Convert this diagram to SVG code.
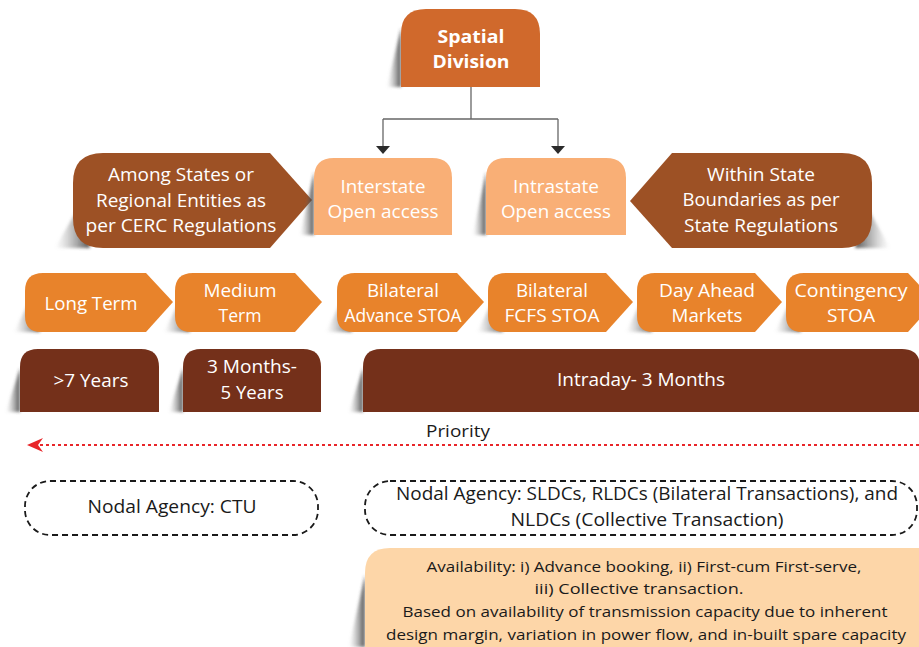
<svg xmlns="http://www.w3.org/2000/svg" width="919" height="647" viewBox="0 0 919 647">
<defs>
<linearGradient id="shL" x1="1" y1="0" x2="0" y2="0"><stop offset="0" stop-color="#333" stop-opacity="0.85"/><stop offset="1" stop-color="#999" stop-opacity="0"/></linearGradient>
<linearGradient id="shR" x1="0" y1="0" x2="1" y2="0"><stop offset="0" stop-color="#333" stop-opacity="0.85"/><stop offset="1" stop-color="#999" stop-opacity="0"/></linearGradient>
<filter id="bl" x="-50%" y="-50%" width="200%" height="200%"><feGaussianBlur stdDeviation="1.5"/></filter>
</defs>
<style>
text{font-family:"Open Sans","Liberation Sans",sans-serif;text-anchor:middle;fill:#fff}
.t18{font-size:18px}
.t19{font-size:19px}
.b{font-weight:bold}
.dk{fill:#1a1a1a}
.sp{fill:#D0692C}
.lt{fill:#F9AF76}
.br{fill:#9D5125}
.or{fill:#E8832B}
.db{fill:#74301A}
.sh{fill:url(#shL);filter:url(#bl)}
.shr{fill:url(#shR);filter:url(#bl)}
.dash{fill:none;stroke:#1a1a1a;stroke-width:1.8;stroke-dasharray:6 4}
.con{fill:none;stroke:#666;stroke-width:1.3}
.ah{fill:#2b2b2b}
</style>
<rect width="919" height="647" fill="#fff"/>

<g id="connectors">
<path class="con" d="M471,87 V119"/>
<path class="con" d="M383,119 H558"/>
<path class="con" d="M383,119 V147"/>
<path class="con" d="M558,119 V147"/>
<path class="ah" d="M376,146 H390 L383,154 Z"/>
<path class="ah" d="M551,146 H565 L558,154 Z"/>
<path d="M919,445 H38" fill="none" stroke="#E8262A" stroke-width="2" stroke-dasharray="3 3"/>
<path d="M27,445 L43,438 L38,445 L43,452 Z" fill="#E8262A"/>
</g>

<g id="spatial">
<path class="sh" d="M401,28 L387,87 H401 Z"/>
<path class="sp" d="M401,87 V34 Q401,9 426,9 H515 Q540,9 540,34 V87 Z"/>
<text class="t18 b" x="471" y="43" textLength="67" lengthAdjust="spacingAndGlyphs">Spatial</text>
<text class="t18 b" x="471" y="68" textLength="77" lengthAdjust="spacingAndGlyphs">Division</text>
</g>

<g id="among">
<path class="sh" d="M80,205 L55,248 H90 Z"/>
<path class="br" d="M103,153 H270 L312,200 L270,248 H103 Q73,248 73,218 V183 Q73,153 103,153 Z"/>
<text class="t19" x="181" y="181" textLength="146" lengthAdjust="spacingAndGlyphs">Among States or</text>
<text class="t19" x="181" y="207" textLength="170" lengthAdjust="spacingAndGlyphs">Regional Entities as</text>
<text class="t19" x="181" y="232" textLength="191" lengthAdjust="spacingAndGlyphs">per CERC Regulations</text>
</g>

<g id="interstate">
<path class="sh" d="M314,172 L300,235 H314 Z"/>
<path class="lt" d="M314,235 V178 Q314,158 334,158 H432 Q452,158 452,178 V235 Z"/>
<text class="t18" x="383" y="193" textLength="85" lengthAdjust="spacingAndGlyphs">Interstate</text>
<text class="t18" x="383" y="218" textLength="111" lengthAdjust="spacingAndGlyphs">Open access</text>
</g>

<g id="intrastate">
<path class="sh" d="M486,172 L473,235 H486 Z"/>
<path class="lt" d="M486,235 V178 Q486,158 506,158 H606 Q626,158 626,178 V235 Z"/>
<text class="t18" x="556" y="193" textLength="86" lengthAdjust="spacingAndGlyphs">Intrastate</text>
<text class="t18" x="556" y="218" textLength="110" lengthAdjust="spacingAndGlyphs">Open access</text>
</g>

<g id="within">
<path class="shr" d="M866,205 L890,248 H855 Z"/>
<path class="br" d="M672,153 H842 Q872,153 872,183 V218 Q872,248 842,248 H672 L630,201 Z"/>
<text class="t19" x="761" y="181" textLength="108" lengthAdjust="spacingAndGlyphs">Within State</text>
<text class="t19" x="761" y="206" textLength="157" lengthAdjust="spacingAndGlyphs">Boundaries as per</text>
<text class="t19" x="761" y="232" textLength="154" lengthAdjust="spacingAndGlyphs">State Regulations</text>
</g>

<g id="long-term">
<path class="sh" d="M30,300 L14,332 H40 Z"/>
<path class="or" d="M43,273 H146 L173,302 L146,332 H41 Q25,332 25,316 V291 Q25,273 43,273 Z"/>
<text class="t18" x="91" y="310" textLength="93" lengthAdjust="spacingAndGlyphs">Long Term</text>
</g>

<g id="medium-term">
<path class="sh" d="M180,300 L164,332 H190 Z"/>
<path class="or" d="M193,273 H295 L322,302 L295,332 H191 Q175,332 175,316 V291 Q175,273 193,273 Z"/>
<text class="t18" x="240" y="297" textLength="73" lengthAdjust="spacingAndGlyphs">Medium</text>
<text class="t18" x="240" y="322" textLength="43" lengthAdjust="spacingAndGlyphs">Term</text>
</g>

<g id="bilateral-advance">
<path class="sh" d="M342,300 L326,332 H352 Z"/>
<path class="or" d="M355,273 H457 L484,302 L457,332 H353 Q337,332 337,316 V291 Q337,273 355,273 Z"/>
<text class="t18" x="403" y="297" textLength="72" lengthAdjust="spacingAndGlyphs">Bilateral</text>
<text class="t18" x="403" y="322" textLength="117" lengthAdjust="spacingAndGlyphs">Advance STOA</text>
</g>

<g id="bilateral-fcfs">
<path class="sh" d="M493,300 L477,332 H503 Z"/>
<path class="or" d="M506,273 H606 L633,302 L606,332 H504 Q488,332 488,316 V291 Q488,273 506,273 Z"/>
<text class="t18" x="552" y="297" textLength="72" lengthAdjust="spacingAndGlyphs">Bilateral</text>
<text class="t18" x="552" y="322" textLength="95" lengthAdjust="spacingAndGlyphs">FCFS STOA</text>
</g>

<g id="day-ahead">
<path class="sh" d="M642,300 L626,332 H652 Z"/>
<path class="or" d="M655,273 H755 L782,302 L755,332 H653 Q637,332 637,316 V291 Q637,273 655,273 Z"/>
<text class="t18" x="707" y="297" textLength="96" lengthAdjust="spacingAndGlyphs">Day Ahead</text>
<text class="t18" x="707" y="322" textLength="71" lengthAdjust="spacingAndGlyphs">Markets</text>
</g>

<g id="contingency">
<path class="sh" d="M791,300 L775,332 H801 Z"/>
<path class="or" d="M804,273 H908 L935,302 L908,332 H802 Q786,332 786,316 V291 Q786,273 804,273 Z"/>
<text class="t18" x="851" y="297" textLength="113" lengthAdjust="spacingAndGlyphs">Contingency</text>
<text class="t18" x="851" y="322" textLength="48" lengthAdjust="spacingAndGlyphs">STOA</text>
</g>

<g id="seven-years">
<path class="sh" d="M20,368 L6,412 H20 Z"/>
<path class="db" d="M20,412 V367 Q20,349 38,349 H141 Q159,349 159,367 V412 Z"/>
<text class="t18" x="91" y="387" textLength="75" lengthAdjust="spacingAndGlyphs">&gt;7 Years</text>
</g>

<g id="three-months">
<path class="sh" d="M183,368 L169,412 H183 Z"/>
<path class="db" d="M183,412 V367 Q183,349 201,349 H303 Q321,349 321,367 V412 Z"/>
<text class="t18" x="252" y="373" textLength="90" lengthAdjust="spacingAndGlyphs">3 Months-</text>
<text class="t18" x="252" y="399" textLength="63" lengthAdjust="spacingAndGlyphs">5 Years</text>
</g>

<g id="intraday">
<path class="sh" d="M363,368 L349,412 H363 Z"/>
<path class="db" d="M363,412 V367 Q363,349 381,349 H902 Q920,349 920,367 V412 Z"/>
<text class="t18" x="641" y="386" textLength="168" lengthAdjust="spacingAndGlyphs">Intraday- 3 Months</text>
</g>

<g id="priority">
<text class="dk" x="458" y="437" font-size="17" textLength="64" lengthAdjust="spacingAndGlyphs">Priority</text>
</g>

<g id="nodal-ctu">
<rect class="dash" x="25" y="481" width="293" height="54" rx="25"/>
<text class="t18 dk" x="172" y="513" textLength="169" lengthAdjust="spacingAndGlyphs">Nodal Agency: CTU</text>
</g>

<g id="nodal-ldc">
<rect class="dash" x="365" y="481" width="552" height="54" rx="25"/>
<text class="t18 dk" x="647" y="500" textLength="502" lengthAdjust="spacingAndGlyphs">Nodal Agency: SLDCs, RLDCs (Bilateral Transactions), and</text>
<text class="t18 dk" x="647" y="526" textLength="273" lengthAdjust="spacingAndGlyphs">NLDCs (Collective Transaction)</text>
</g>

<g id="availability">
<path class="sh" d="M365,575 L349,647 H365 Z"/>
<path fill="#FDD6A8" d="M365,647 V573 Q365,548 390,548 H919 V647 Z"/>
<text class="dk" font-size="15" x="644" y="572" textLength="435" lengthAdjust="spacingAndGlyphs">Availability: i) Advance booking, ii) First-cum First-serve,</text>
<text class="dk" font-size="15" x="639" y="594" textLength="209" lengthAdjust="spacingAndGlyphs">iii) Collective transaction.</text>
<text class="dk" font-size="15" x="645" y="617" textLength="485" lengthAdjust="spacingAndGlyphs">Based on availability of transmission capacity due to inherent</text>
<text class="dk" font-size="15" x="646" y="640" textLength="520" lengthAdjust="spacingAndGlyphs">design margin, variation in power flow, and in-built spare capacity</text>
</g>
</svg>
